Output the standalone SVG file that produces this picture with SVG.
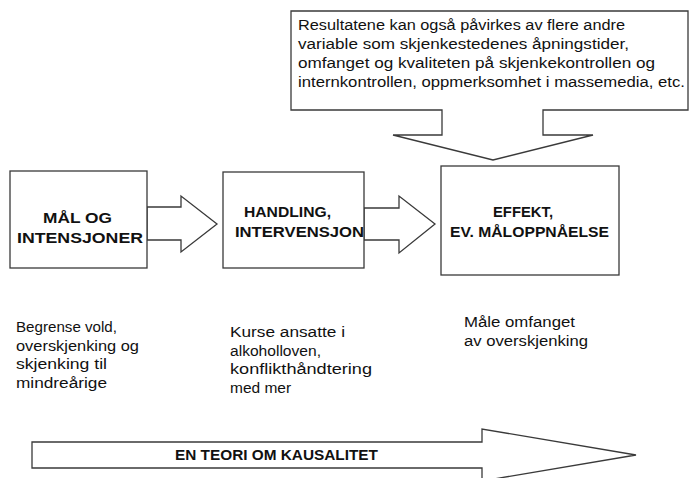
<svg xmlns="http://www.w3.org/2000/svg" width="690" height="478" viewBox="0 0 690 478">
<style>
.sh{fill:#fff;stroke:#3a3a3a;stroke-width:1.3}
.t{font-family:"Liberation Sans",Arial,sans-serif;font-size:15.5px;fill:#111}
.b{font-family:"Liberation Sans",Arial,sans-serif;font-size:15px;font-weight:bold;fill:#111}
</style>
<rect width="690" height="478" fill="#fff"/>
<g id="callout">
<path class="sh" d="M291,11 H688 V110 H543 V135 H593 L493,160 L393,135 H442 V110 H291 Z"/>
<text class="t" x="298" y="30" textLength="327" lengthAdjust="spacingAndGlyphs">Resultatene kan også påvirkes av flere andre</text>
<text class="t" x="298" y="49" textLength="331" lengthAdjust="spacingAndGlyphs">variable som skjenkestedenes åpningstider,</text>
<text class="t" x="298" y="68" textLength="357" lengthAdjust="spacingAndGlyphs">omfanget og kvaliteten på skjenkekontrollen og</text>
<text class="t" x="298" y="87" textLength="387" lengthAdjust="spacingAndGlyphs">internkontrollen, oppmerksomhet i massemedia, etc.</text>
</g>
<g id="connectors">
<path class="sh" d="M147,207 H181 V196 L217,224 L181,252 V240 H147 Z"/>
<path class="sh" d="M364,208 H399 V196 L435,224 L399,253 V240 H364 Z"/>
</g>
<g id="maal">
<rect class="sh" x="10" y="171" width="137" height="97"/>
<text class="b" x="43" y="223" textLength="69" lengthAdjust="spacingAndGlyphs">MÅL OG</text>
<text class="b" x="17" y="243" textLength="126" lengthAdjust="spacingAndGlyphs">INTENSJONER</text>
</g>
<g id="handling">
<rect class="sh" x="223" y="172" width="141" height="96"/>
<text class="b" x="244" y="217" textLength="87" lengthAdjust="spacingAndGlyphs">HANDLING,</text>
<text class="b" x="235" y="237" textLength="129" lengthAdjust="spacingAndGlyphs">INTERVENSJON</text>
</g>
<g id="effekt">
<rect class="sh" x="441" y="166" width="178" height="109"/>
<text class="b" x="493" y="217" textLength="60" lengthAdjust="spacingAndGlyphs">EFFEKT,</text>
<text class="b" x="450" y="237" textLength="159" lengthAdjust="spacingAndGlyphs">EV. MÅLOPPNÅELSE</text>
</g>
<g id="desc1">
<text class="t" x="16" y="332" textLength="101" lengthAdjust="spacingAndGlyphs">Begrense vold,</text>
<text class="t" x="16" y="351" textLength="123" lengthAdjust="spacingAndGlyphs">overskjenking og</text>
<text class="t" x="16" y="369" textLength="91" lengthAdjust="spacingAndGlyphs">skjenking til</text>
<text class="t" x="16" y="388" textLength="91" lengthAdjust="spacingAndGlyphs">mindreårige</text>
</g>
<g id="desc2">
<text class="t" x="230" y="337" textLength="115" lengthAdjust="spacingAndGlyphs">Kurse ansatte i</text>
<text class="t" x="230" y="356" textLength="91" lengthAdjust="spacingAndGlyphs">alkoholloven,</text>
<text class="t" x="230" y="374" textLength="142" lengthAdjust="spacingAndGlyphs">konflikthåndtering</text>
<text class="t" x="230" y="393">med mer</text>
</g>
<g id="desc3">
<text class="t" x="464" y="327" textLength="111" lengthAdjust="spacingAndGlyphs">Måle omfanget</text>
<text class="t" x="464" y="346" textLength="124" lengthAdjust="spacingAndGlyphs">av overskjenking</text>
</g>
<g id="kausalitet">
<path class="sh" d="M32,442 H482 V429 L636,455 L482,481 V468 H32 Z"/>
<text class="b" x="175" y="460" textLength="203" lengthAdjust="spacingAndGlyphs">EN TEORI OM KAUSALITET</text>
</g>
</svg>
